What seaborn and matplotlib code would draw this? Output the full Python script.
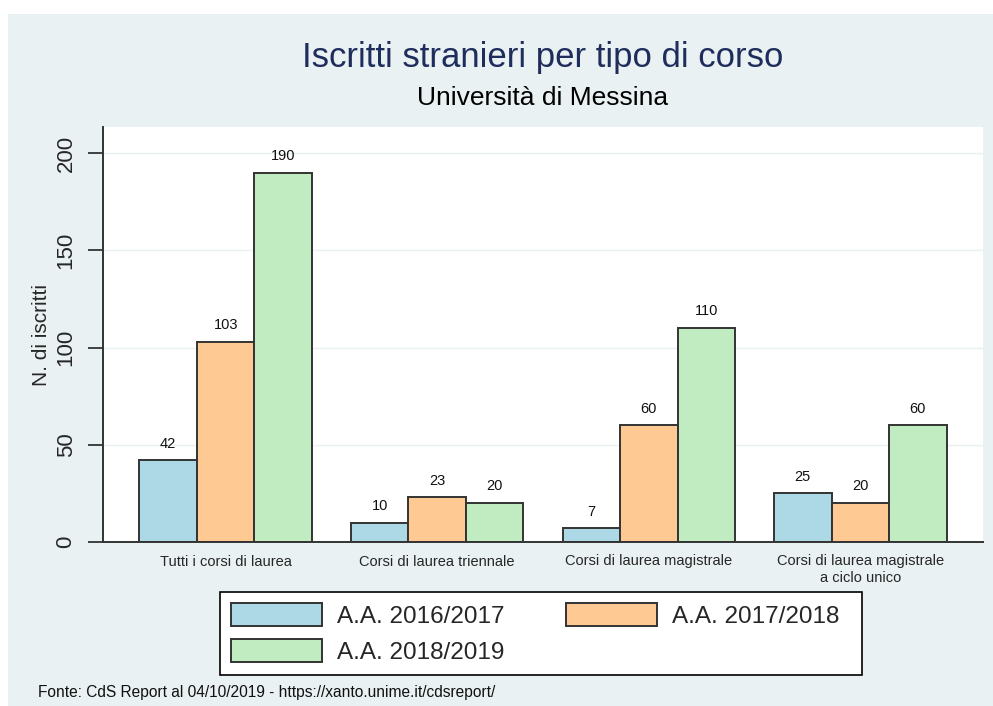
import matplotlib
matplotlib.use("Agg")
import matplotlib.pyplot as plt
import matplotlib.patches as mpatches
import pandas as pd
import seaborn as sns

# data
corsi = ["Tutti i corsi di laurea", "Corsi di laurea triennale",
         "Corsi di laurea magistrale", "Corsi di laurea magistrale\na ciclo unico"]
anni = ["A.A. 2016/2017", "A.A. 2017/2018", "A.A. 2018/2019"]
iscritti_1617 = [42, 10, 7, 25]
iscritti_1718 = [103, 23, 60, 20]
iscritti_1819 = [190, 20, 110, 60]
colori = ["#ADD8E6", "#FFC994", "#C1EBC1"]

df = pd.DataFrame({
    "corso": corsi * 3,
    "anno": [a for a in anni for _ in corsi],
    "n": iscritti_1617 + iscritti_1718 + iscritti_1819,
})

sns.set_style("white")
plt.rcParams["font.family"] = ["Liberation Sans", "DejaVu Sans"]

fig = plt.figure(figsize=(9.93, 7.06), dpi=100)
fig.patches.append(mpatches.Rectangle((8 / 993, 0), 1, 692 / 706, transform=fig.transFigure,
                                      facecolor="#EAF1F3", edgecolor="none", zorder=-10))
ax = fig.add_axes([103 / 993, 164 / 706, 880 / 993, 415 / 706])
ax.set_facecolor("white")

sns.barplot(data=df, x="corso", y="n", hue="anno", palette=colori, saturation=1,
            width=0.815, edgecolor="#333333", linewidth=1.4, ax=ax)

for c in ax.containers:
    ax.bar_label(c, padding=7, fontsize=10.5, color="#111111")

ax.set_ylim(0, 213.4)
ax.set_xlim(-0.58, 3.58)
ax.set_yticks([0, 50, 100, 150, 200])
ax.set_yticklabels(["0", "50", "100", "150", "200"], rotation=90, va="center", fontsize=16)
ax.tick_params(axis="y", length=11, width=1.3, color="#333333", pad=8, left=True)
ax.tick_params(axis="x", length=0, pad=9, labelsize=10.5)
ax.yaxis.grid(True, color="#EAF1F3", lw=1)
ax.set_axisbelow(True)
for s in ["top", "right"]:
    ax.spines[s].set_visible(False)
for s in ["left", "bottom"]:
    ax.spines[s].set_color("#333333")
    ax.spines[s].set_linewidth(1.4)

ax.set_xlabel("")
ax.set_ylabel("N. di iscritti", fontsize=15)
ax.yaxis.set_label_coords(-52 / 880, 0.5)

# legend box (stata leaves a wider right margin, so the frame is drawn separately)
fig.patches.append(mpatches.Rectangle((220 / 993, 1 - 675 / 706), 642 / 993, 83 / 706,
                                      transform=fig.transFigure, facecolor="white",
                                      edgecolor="black", linewidth=1.2, zorder=4))
h, l = ax.get_legend_handles_labels()
ax.get_legend().remove()
fig.legend([h[0], h[2], h[1]], [l[0], l[2], l[1]], loc="center", mode="expand",
           bbox_to_anchor=(220 / 993, 1 - 675 / 706, 630 / 993, 83 / 706), ncol=2,
           fontsize=17.5, frameon=False,
           handlelength=3.75, handleheight=1.1, handletextpad=0.6,
           columnspacing=2.0, labelspacing=0.45, borderpad=0.45, borderaxespad=0)

fig.text(543 / 993, 1 - 57 / 706, "Iscritti stranieri per tipo di corso", ha="center", va="center",
         fontsize=25, color="#1F2D5C")
fig.text(543 / 993, 1 - 98 / 706, "Università di Messina", ha="center", va="center",
         fontsize=19, color="black")
fig.text(38 / 993, 1 - 692 / 706, "Fonte: CdS Report al 04/10/2019 - https://xanto.unime.it/cdsreport/",
         ha="left", va="center", fontsize=11.2, color="#111111")

fig.savefig("out.png", dpi=100)
